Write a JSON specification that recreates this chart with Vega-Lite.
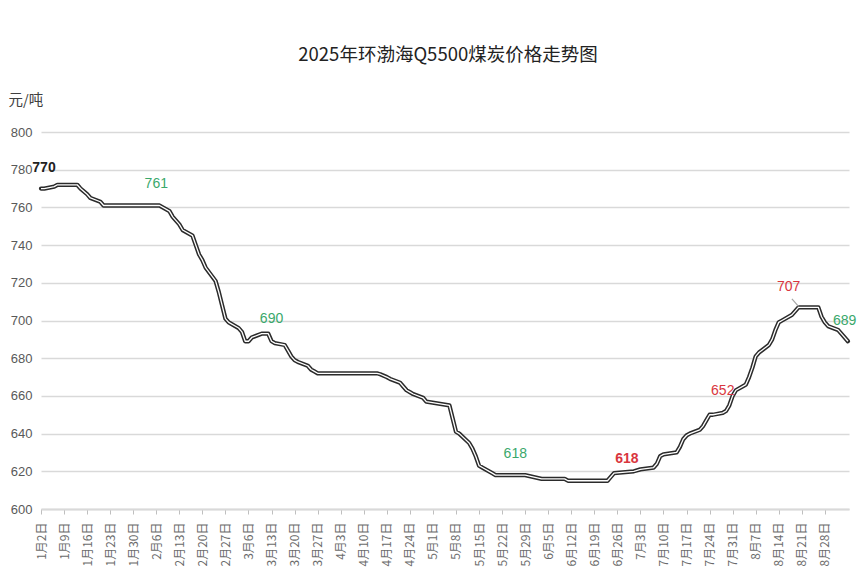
{
  "$schema": "https://vega.github.io/schema/vega-lite/v6.json",
  "width": 808,
  "height": 377,
  "autosize": "none",
  "padding": {"left": 41, "top": 132, "right": 16, "bottom": 71},
  "background": "white",
  "title": {"text": "2025年环渤海Q5500煤炭价格走势图", "font": "Noto Sans CJK SC", "fontSize": 18.5, "fontWeight": "normal", "color": "#222222", "offset": 28, "anchor": "middle", "dx": 3},
  "config": {"view": {"stroke": null}, "font": "Noto Sans CJK SC"},
  "datasets": {
    "price": [
      {"date": "2025-01-02", "value": 770}, {"date": "2025-01-03", "value": 770}, {"date": "2025-01-06", "value": 771},
      {"date": "2025-01-07", "value": 772}, {"date": "2025-01-13", "value": 772}, {"date": "2025-01-14", "value": 770},
      {"date": "2025-01-16", "value": 767}, {"date": "2025-01-17", "value": 765}, {"date": "2025-01-20", "value": 763},
      {"date": "2025-01-21", "value": 761}, {"date": "2025-02-07", "value": 761}, {"date": "2025-02-10", "value": 758},
      {"date": "2025-02-11", "value": 755}, {"date": "2025-02-13", "value": 751}, {"date": "2025-02-14", "value": 748},
      {"date": "2025-02-17", "value": 745}, {"date": "2025-02-18", "value": 740}, {"date": "2025-02-19", "value": 735},
      {"date": "2025-02-20", "value": 732}, {"date": "2025-02-21", "value": 728}, {"date": "2025-02-24", "value": 721},
      {"date": "2025-02-25", "value": 715}, {"date": "2025-02-26", "value": 708}, {"date": "2025-02-27", "value": 701},
      {"date": "2025-02-28", "value": 699}, {"date": "2025-03-03", "value": 696}, {"date": "2025-03-04", "value": 694},
      {"date": "2025-03-05", "value": 689}, {"date": "2025-03-06", "value": 689}, {"date": "2025-03-07", "value": 691},
      {"date": "2025-03-10", "value": 693}, {"date": "2025-03-12", "value": 693}, {"date": "2025-03-13", "value": 689},
      {"date": "2025-03-14", "value": 688}, {"date": "2025-03-17", "value": 687}, {"date": "2025-03-18", "value": 684},
      {"date": "2025-03-19", "value": 681}, {"date": "2025-03-20", "value": 679}, {"date": "2025-03-21", "value": 678},
      {"date": "2025-03-24", "value": 676}, {"date": "2025-03-25", "value": 674}, {"date": "2025-03-26", "value": 673},
      {"date": "2025-03-27", "value": 672}, {"date": "2025-04-14", "value": 672}, {"date": "2025-04-15", "value": 671.5},
      {"date": "2025-04-17", "value": 670}, {"date": "2025-04-18", "value": 669}, {"date": "2025-04-21", "value": 667},
      {"date": "2025-04-22", "value": 665}, {"date": "2025-04-23", "value": 663}, {"date": "2025-04-24", "value": 662},
      {"date": "2025-04-25", "value": 661}, {"date": "2025-04-28", "value": 659}, {"date": "2025-04-29", "value": 657},
      {"date": "2025-05-06", "value": 655}, {"date": "2025-05-07", "value": 648}, {"date": "2025-05-08", "value": 641},
      {"date": "2025-05-09", "value": 640}, {"date": "2025-05-12", "value": 635}, {"date": "2025-05-13", "value": 632},
      {"date": "2025-05-14", "value": 628}, {"date": "2025-05-15", "value": 623}, {"date": "2025-05-16", "value": 622},
      {"date": "2025-05-19", "value": 619}, {"date": "2025-05-20", "value": 618}, {"date": "2025-05-29", "value": 618},
      {"date": "2025-06-03", "value": 616}, {"date": "2025-06-10", "value": 616}, {"date": "2025-06-11", "value": 615},
      {"date": "2025-06-23", "value": 615}, {"date": "2025-06-24", "value": 617}, {"date": "2025-06-25", "value": 619},
      {"date": "2025-07-01", "value": 620}, {"date": "2025-07-03", "value": 621}, {"date": "2025-07-07", "value": 622},
      {"date": "2025-07-08", "value": 624}, {"date": "2025-07-09", "value": 628}, {"date": "2025-07-10", "value": 629},
      {"date": "2025-07-14", "value": 630}, {"date": "2025-07-15", "value": 633}, {"date": "2025-07-16", "value": 637},
      {"date": "2025-07-17", "value": 639}, {"date": "2025-07-18", "value": 640}, {"date": "2025-07-21", "value": 642},
      {"date": "2025-07-22", "value": 644}, {"date": "2025-07-23", "value": 647}, {"date": "2025-07-24", "value": 650},
      {"date": "2025-07-25", "value": 650}, {"date": "2025-07-28", "value": 651}, {"date": "2025-07-29", "value": 652},
      {"date": "2025-07-30", "value": 655}, {"date": "2025-07-31", "value": 660}, {"date": "2025-08-01", "value": 663},
      {"date": "2025-08-04", "value": 666}, {"date": "2025-08-05", "value": 670}, {"date": "2025-08-06", "value": 675},
      {"date": "2025-08-07", "value": 681}, {"date": "2025-08-08", "value": 683}, {"date": "2025-08-11", "value": 687},
      {"date": "2025-08-12", "value": 690}, {"date": "2025-08-13", "value": 695}, {"date": "2025-08-14", "value": 699},
      {"date": "2025-08-15", "value": 700}, {"date": "2025-08-18", "value": 703}, {"date": "2025-08-19", "value": 705},
      {"date": "2025-08-20", "value": 707}, {"date": "2025-08-26", "value": 707}, {"date": "2025-08-27", "value": 702},
      {"date": "2025-08-28", "value": 699}, {"date": "2025-08-29", "value": 697}, {"date": "2025-09-01", "value": 695},
      {"date": "2025-09-02", "value": 693}, {"date": "2025-09-04", "value": 689}
    ],
    "labels": [
      {"date": "2025-01-02", "value": 781, "text": "770", "trend": "起点"},
      {"date": "2025-02-06", "value": 772.5, "text": "761", "trend": "跌"},
      {"date": "2025-03-13", "value": 701, "text": "690", "trend": "跌"},
      {"date": "2025-05-26", "value": 629, "text": "618", "trend": "跌"},
      {"date": "2025-06-28", "value": 626.5, "text": "618", "trend": "涨"},
      {"date": "2025-07-28", "value": 662.5, "text": "652", "trend": "涨"},
      {"date": "2025-08-17", "value": 718, "text": "707", "trend": "涨"},
      {"date": "2025-09-03", "value": 700, "text": "689", "trend": "跌"}
    ],
    "leader": [
      {"date": "2025-08-18", "value": 711.5, "date2": "2025-08-20", "value2": 707.5}
    ]
  },
  "encoding": {
    "x": {
      "field": "date", "type": "temporal",
      "scale": {"type": "utc", "domain": [{"year": 2025, "month": 1, "date": 2, "utc": true}, {"year": 2025, "month": 9, "date": 4, "hours": 8, "utc": true}]},
      "axis": {
        "values": [
          {"year": 2025, "month": 1, "date": 2, "utc": true}, {"year": 2025, "month": 1, "date": 9, "utc": true},
          {"year": 2025, "month": 1, "date": 16, "utc": true}, {"year": 2025, "month": 1, "date": 23, "utc": true},
          {"year": 2025, "month": 1, "date": 30, "utc": true}, {"year": 2025, "month": 2, "date": 6, "utc": true},
          {"year": 2025, "month": 2, "date": 13, "utc": true}, {"year": 2025, "month": 2, "date": 20, "utc": true},
          {"year": 2025, "month": 2, "date": 27, "utc": true}, {"year": 2025, "month": 3, "date": 6, "utc": true},
          {"year": 2025, "month": 3, "date": 13, "utc": true}, {"year": 2025, "month": 3, "date": 20, "utc": true},
          {"year": 2025, "month": 3, "date": 27, "utc": true}, {"year": 2025, "month": 4, "date": 3, "utc": true},
          {"year": 2025, "month": 4, "date": 10, "utc": true}, {"year": 2025, "month": 4, "date": 17, "utc": true},
          {"year": 2025, "month": 4, "date": 24, "utc": true}, {"year": 2025, "month": 5, "date": 1, "utc": true},
          {"year": 2025, "month": 5, "date": 8, "utc": true}, {"year": 2025, "month": 5, "date": 15, "utc": true},
          {"year": 2025, "month": 5, "date": 22, "utc": true}, {"year": 2025, "month": 5, "date": 29, "utc": true},
          {"year": 2025, "month": 6, "date": 5, "utc": true}, {"year": 2025, "month": 6, "date": 12, "utc": true},
          {"year": 2025, "month": 6, "date": 19, "utc": true}, {"year": 2025, "month": 6, "date": 26, "utc": true},
          {"year": 2025, "month": 7, "date": 3, "utc": true}, {"year": 2025, "month": 7, "date": 10, "utc": true},
          {"year": 2025, "month": 7, "date": 17, "utc": true}, {"year": 2025, "month": 7, "date": 24, "utc": true},
          {"year": 2025, "month": 7, "date": 31, "utc": true}, {"year": 2025, "month": 8, "date": 7, "utc": true},
          {"year": 2025, "month": 8, "date": 14, "utc": true}, {"year": 2025, "month": 8, "date": 21, "utc": true},
          {"year": 2025, "month": 8, "date": 28, "utc": true}
        ],
        "format": "%-m月%-d日",
        "labelAngle": 270,
        "grid": false,
        "domainColor": "#d9d9d9",
        "domainWidth": 2,
        "tickColor": "#bfbfbf",
        "tickSize": 5,
        "labelColor": "#6b6b6b",
        "labelFontSize": 12,
        "labelPadding": 8,
        "labelOverlap": false,
        "labelFlush": false,
        "title": null
      }
    },
    "y": {
      "field": "value", "type": "quantitative",
      "scale": {"domain": [600, 800], "nice": false, "zero": false},
      "axis": {
        "values": [600, 620, 640, 660, 680, 700, 720, 740, 760, 780, 800],
        "grid": true,
        "gridColor": "#d9d9d9",
        "gridWidth": 1.5,
        "domain": false,
        "ticks": false,
        "labelColor": "#595959",
        "labelFont": "Liberation Sans",
        "labelFontSize": 13,
        "labelPadding": 9,
        "title": "元/吨",
        "titleAngle": 0,
        "titleAlign": "left",
        "titleBaseline": "middle",
        "titleX": -33,
        "titleY": -32,
        "titleFontSize": 14.5,
        "titleFontWeight": "normal",
        "titleColor": "#404040"
      }
    }
  },
  "layer": [
    {
      "data": {"name": "price"},
      "mark": {"type": "line", "color": "#2b2b2b", "strokeWidth": 4.3, "strokeJoin": "round", "strokeCap": "round"}
    },
    {
      "data": {"name": "price"},
      "mark": {"type": "line", "color": "#ffffff", "strokeWidth": 1.3, "strokeJoin": "round"}
    },
    {
      "data": {"name": "leader"},
      "mark": {"type": "rule", "color": "#a6a6a6", "strokeWidth": 1.2},
      "encoding": {
        "x2": {"field": "date2"},
        "y2": {"field": "value2"}
      }
    },
    {
      "data": {"name": "labels"},
      "transform": [{"filter": "!(datum.trend == '起点' || (datum.text == '618' && datum.trend == '涨'))"}],
      "mark": {"type": "text", "font": "Liberation Sans", "fontSize": 14, "align": "center", "baseline": "middle"},
      "encoding": {
        "text": {"field": "text"},
        "color": {"field": "trend", "type": "nominal", "scale": {"domain": ["起点", "跌", "涨"], "range": ["#222222", "#3aa86b", "#d9363e"]}, "legend": null}
      }
    },
    {
      "data": {"name": "labels"},
      "transform": [{"filter": "datum.trend == '起点' || (datum.text == '618' && datum.trend == '涨')"}],
      "mark": {"type": "text", "font": "Liberation Sans", "fontSize": 14, "fontWeight": "bold", "align": "center", "baseline": "middle", "dx": 3},
      "encoding": {
        "text": {"field": "text"},
        "color": {"field": "trend", "type": "nominal", "scale": {"domain": ["起点", "跌", "涨"], "range": ["#222222", "#3aa86b", "#d9363e"]}, "legend": null}
      }
    }
  ]
}
